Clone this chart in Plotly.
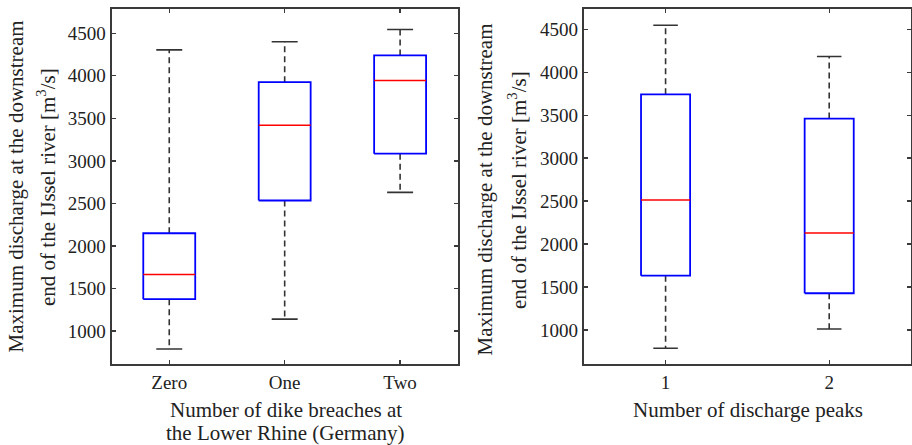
import plotly.graph_objects as go

# ---- data ----
breach_labels = ["Zero", "One", "Two"]
breach_lower = [790, 1140, 2630]
breach_q1 = [1375, 2535, 3085]
breach_median = [1665, 3420, 3945]
breach_q3 = [2150, 3925, 4240]
breach_upper = [4305, 4400, 4545]

peak_labels = ["1", "2"]
peak_lower = [787, 1012]
peak_q1 = [1632, 1427]
peak_median = [2513, 2129]
peak_q3 = [3743, 3460]
peak_upper = [4547, 4182]

y_ticks = [1000, 1500, 2000, 2500, 3000, 3500, 4000, 4500]

FONT = "Liberation Serif, Times New Roman, serif"
FRAME = "#3a3a3a"
BLUE = "#0000ff"
RED = "#ff0000"
WHISK = "#333333"

fig = go.Figure()


def add_boxes(xa, ya, lower, q1, med, q3, upper, box_w, cap_w):
    for i in range(len(med)):
        p = i + 1
        h = box_w / 2
        c = cap_w / 2
        # whiskers (dashed)
        fig.add_trace(go.Scatter(
            x=[p, p, None, p, p], y=[q3[i], upper[i], None, q1[i], lower[i]],
            mode="lines", line=dict(color=WHISK, width=1.6, dash="6px,4px"),
            xaxis=xa, yaxis=ya, showlegend=False, hoverinfo="skip"))
        # caps
        fig.add_trace(go.Scatter(
            x=[p - c, p + c, None, p - c, p + c],
            y=[upper[i], upper[i], None, lower[i], lower[i]],
            mode="lines", line=dict(color=WHISK, width=1.6),
            xaxis=xa, yaxis=ya, showlegend=False, hoverinfo="skip"))
        # box
        fig.add_trace(go.Scatter(
            x=[p - h, p + h, p + h, p - h, p - h],
            y=[q1[i], q1[i], q3[i], q3[i], q1[i]],
            mode="lines", line=dict(color=BLUE, width=1.8),
            xaxis=xa, yaxis=ya, showlegend=False, hoverinfo="skip"))
        # median
        fig.add_trace(go.Scatter(
            x=[p - h, p + h], y=[med[i], med[i]],
            mode="lines", line=dict(color=RED, width=1.6),
            xaxis=xa, yaxis=ya, showlegend=False, hoverinfo="skip"))


add_boxes("x", "y", breach_lower, breach_q1, breach_median, breach_q3, breach_upper, 0.45, 0.225)
add_boxes("x2", "y2", peak_lower, peak_q1, peak_median, peak_q3, peak_upper, 0.30, 0.15)

axis_common = dict(
    showline=True, linewidth=2, linecolor=FRAME, mirror="ticks",
    ticks="inside", ticklen=4, tickwidth=1.3, tickcolor=FRAME,
    showgrid=False, zeroline=False,
    tickfont=dict(family=FONT, size=19, color="#222222"),
)

ydom = [0.1809, 0.9787]
fig.update_layout(
    width=912, height=445,
    margin=dict(l=0, r=0, t=0, b=0, pad=0),
    paper_bgcolor="white", plot_bgcolor="white",
    xaxis=dict(domain=[0.1223, 0.502], range=[0.5, 3.5], tickvals=[1, 2, 3],
               ticktext=breach_labels, anchor="y", **axis_common),
    yaxis=dict(domain=ydom, range=[607, 4780], tickvals=y_ticks, anchor="x", **axis_common),
    xaxis2=dict(domain=[0.6401, 0.9989], range=[0.5, 2.5], tickvals=[1, 2],
                ticktext=peak_labels, anchor="y2", **axis_common),
    yaxis2=dict(domain=ydom, range=[598, 4730], tickvals=y_ticks, anchor="x2", **axis_common),
)

tfont = dict(family=FONT, size=21, color="#222222")
ann = []
# y titles
ann.append(dict(text="Maximum discharge at the downstream", x=15.5 / 912, y=0.5798, textangle=-90))
ann.append(dict(text="end of the IJssel river [m<sup>3</sup>/s]", x=47 / 912, y=0.5798, textangle=-90))
ann.append(dict(text="Maximum discharge at the downstream", x=485.5 / 912, y=0.573, textangle=-90))
ann.append(dict(text="end of the IJssel river [m<sup>3</sup>/s]", x=517 / 912, y=0.573, textangle=-90))
# x titles
ann.append(dict(text="Number of dike breaches at", x=285.5 / 912, y=1 - 410 / 445, textangle=0))
ann.append(dict(text="the Lower Rhine (Germany)", x=285.5 / 912, y=1 - 433 / 445, textangle=0))
ann.append(dict(text="Number of discharge peaks", x=747.5 / 912, y=1 - 410 / 445, textangle=0))
for a in ann:
    a.update(xref="paper", yref="paper", xanchor="center", yanchor="middle",
             showarrow=False, font=tfont)
fig.update_layout(annotations=ann)

fig.write_html(
    "out.html",
    config={"displayModeBar": False, "staticPlot": True},
    post_script="document.body.style.margin='0px';document.body.style.overflow='hidden';",
)
